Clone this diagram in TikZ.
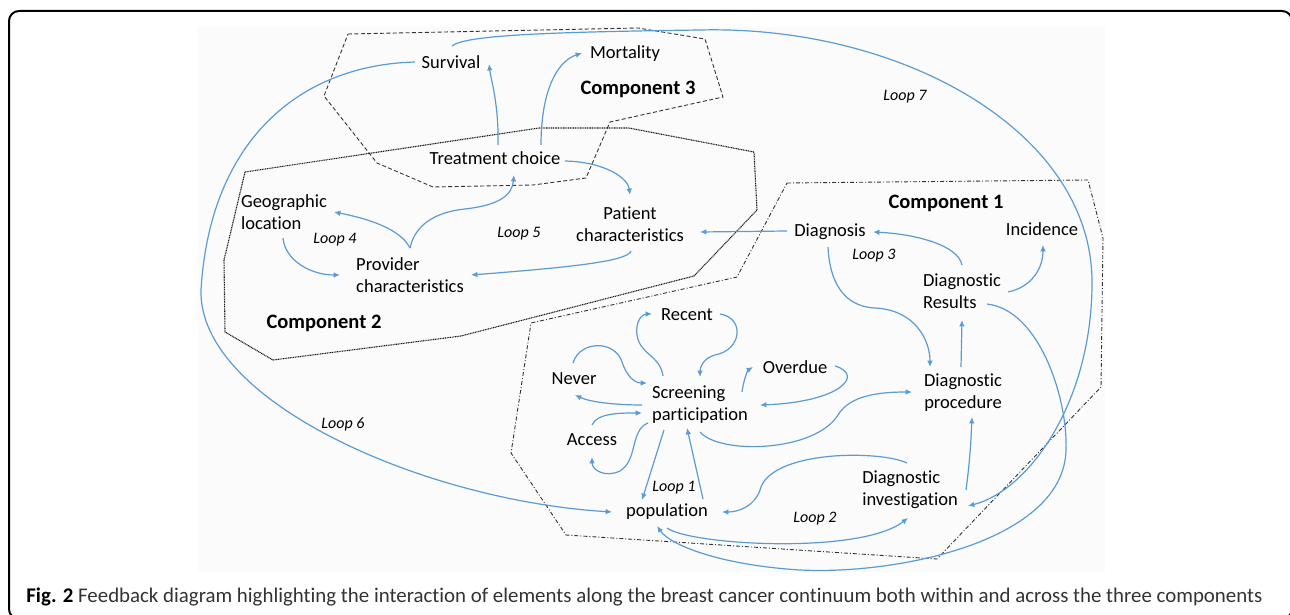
\documentclass[tikz,border=0pt]{standalone}
\usepackage{fontspec}
\usepackage{graphicx}
\setmainfont{Carlito}[Ligatures=NoCommon]
\usetikzlibrary{arrows.meta}
\definecolor{lnk}{RGB}{91,155,213}
\begin{document}
\begin{tikzpicture}[x=0.5pt,y=-0.5pt,
  lbl/.style={inner sep=0pt, font=\fontsize{9.25}{11}\selectfont},
  comp/.style={inner sep=0pt, font=\fontsize{10.25}{12}\selectfont\bfseries},
  loopl/.style={inner sep=0pt, font=\fontsize{8}{10}\selectfont\itshape},
  link/.style={draw=lnk, line width=0.6pt, -{Latex[length=3.2pt,width=2.8pt]}},
  border3/.style={draw=black!80, line width=0.45pt, dash pattern=on 2pt off 1.2pt},
  border2/.style={draw=black!90, line width=0.55pt, dash pattern=on 0.5pt off 0.35pt},
  border1/.style={draw=black!80, line width=0.45pt, dash pattern=on 2pt off 1pt on 0.5pt off 1pt}]
\useasboundingbox (0,0) rectangle (1290,615);
\fill[black!1.5] (198,27) rectangle (1105,572);
\draw[line width=1pt, rounded corners=5pt] (9,11) rectangle (1292,619);

% components
\draw[border3] (348,34) -- (638,28) -- (705,39) -- (723,97) -- (610,122) -- (586,178) -- (533,185) -- (433,187) -- (377,163) -- (324,96) -- cycle;
\draw[border2] (245,172) -- (539,128) -- (629,128) -- (754,152) -- (757,210) -- (694,276) -- (461,336) -- (273,360) -- (225,332) -- (224,260) -- cycle;
\draw[border1] (787,183) -- (1088,180) -- (1103,238) -- (1101,387) -- (937,559) -- (566,535) -- (511,453) -- (531,323) -- (737,277) -- cycle;

% nodes
\node[lbl] (surv) at (451,62) {Survival};
\node[lbl] (mort) at (625,54) {Mortality};
\node[comp] (c3) at (638,89) {Component 3};
\node[lbl] (treat) at (495,158) {Treatment choice};
\node[lbl, align=left] (geo) at (284,212) {Geographic\\location};
\node[loopl] (l4) at (335,240) {Loop 4};
\node[lbl, align=left] (prov) at (410,275) {Provider\\characteristics};
\node[loopl] (l5) at (519,234) {Loop 5};
\node[lbl, align=center] (pat) at (630,224) {Patient\\characteristics};
\node[comp] (c2) at (324,323) {Component 2};
\node[loopl] (l6) at (343,424) {Loop 6};
\node[loopl] (l7) at (905,97) {Loop 7};
\node[comp] (c1) at (946,203) {Component 1};
\node[lbl] (diag) at (830,232) {Diagnosis};
\node[lbl] (inc) at (1042,229) {Incidence};
\node[loopl] (l3) at (874,256) {Loop 3};
\node[lbl, align=left] (res) at (962,291) {Diagnostic\\Results};
\node[lbl] (rec) at (687,315) {Recent};
\node[lbl] (nev) at (574,379) {Never};
\node[lbl, align=left] (scr) at (700,405) {Screening\\participation};
\node[lbl] (ovr) at (795,367) {Overdue};
\node[lbl] (acc) at (592,440) {Access};
\node[lbl, align=center] (proc) at (963,393) {Diagnostic\\procedure};
\node[loopl] (l1) at (674,488) {Loop 1};
\node[lbl] (pop) at (667,512) {population};
\node[loopl] (l2) at (815,519) {Loop 2};
\node[lbl, align=left] (inv) at (910,490) {Diagnostic\\investigation};

\node[anchor=west, inner sep=0pt, text=black!80] (cap) at (26,597) {\resizebox{618pt}{!}{\textcolor{black}{\textbf{Fig. 2}} Feedback diagram highlighting the interaction of elements along the breast cancer continuum both within and across the three components}};

% connectors
\draw[link] ([shift={(3,-13)}]treat.center) .. controls (499,105) and (491,80) .. ([shift={(38,2)}]surv.center);
\draw[link] ([shift={(46,-13)}]treat.center) .. controls (541,95) and (555,62) .. ([shift={(-43,-1)}]mort.center);
\draw[link] ([shift={(70,3)}]treat.center) .. controls (605,162) and (628,178) .. ([shift={(0,-29)}]pat.center);
\draw[link] ([shift={(-36,0)}]surv.center) .. controls (300,65) and (210,140) .. (201,290) .. controls (198,400) and (420,500) .. ([shift={(-55,0)}]pop.center);
\draw[link] ([shift={(1,-16)}]surv.center) .. controls (465,35) and (550,32) .. (700,30) .. controls (900,25) and (1090,130) .. (1092,280) .. controls (1093,400) and (1030,490) .. ([shift={(58,16)}]inv.center);
\draw[link] ([shift={(0,-27)}]prov.center) .. controls (400,228) and (365,218) .. ([shift={(50,0)}]geo.center);
\draw[link] ([shift={(0,-27)}]prov.center) .. controls (415,225) and (435,212) .. (465,209) .. controls (500,205) and (512,195) .. ([shift={(19,17)}]treat.center);
\draw[link] ([shift={(-1,26)}]geo.center) .. controls (285,260) and (310,275) .. ([shift={(-70,0)}]prov.center);
\draw[link] ([shift={(1,27)}]pat.center) .. controls (628,262) and (560,268) .. ([shift={(61,0)}]prov.center);
\draw[link] ([shift={(-43,-1)}]diag.center) -- ([shift={(70,8)}]pat.center);
\draw[link] ([shift={(0,-26)}]res.center) .. controls (958,245) and (915,234) .. ([shift={(43,0)}]diag.center);
\draw[link] ([shift={(46,1)}]res.center) .. controls (1032,287) and (1043,268) .. ([shift={(1,16)}]inc.center);
\draw[link] ([shift={(-2,15)}]diag.center) .. controls (830,290) and (850,307) .. (875,308) .. controls (915,310) and (930,340) .. ([shift={(-33,-26)}]proc.center);
\draw[link] ([shift={(-2,-26)}]proc.center) -- ([shift={(0,29)}]res.center);
\draw[link] ([shift={(56,0)}]inv.center) .. controls (970,460) and (971,440) .. ([shift={(9,24)}]proc.center);
\draw[link] ([shift={(25,13)}]res.center) .. controls (1040,310) and (1068,400) .. (1066,450) .. controls (1064,540) and (900,575) .. (800,570) .. controls (720,565) and (670,545) .. ([shift={(-10,14)}]pop.center);
\draw[link] ([shift={(0,16)}]pop.center) .. controls (690,545) and (860,555) .. ([shift={(-2,28)}]inv.center);
\draw[link] ([shift={(-3,-27)}]inv.center) .. controls (880,450) and (770,450) .. (760,490) .. controls (755,505) and (740,512) .. ([shift={(55,0)}]pop.center);
\draw[link] ([shift={(0,27)}]scr.center) .. controls (720,455) and (815,452) .. (838,415) .. controls (850,395) and (880,392) .. ([shift={(-51,-1)}]proc.center);
\draw[link] ([shift={(40,-1)}]ovr.center) .. controls (865,375) and (840,402) .. ([shift={(60,0)}]scr.center);
\draw[link] ([shift={(42,-13)}]scr.center) .. controls (744,378) and (748,370) .. ([shift={(-42,0)}]ovr.center);
\draw[link] ([shift={(-37,-29)}]scr.center) .. controls (660,355) and (640,355) .. (637,335) .. controls (635,320) and (643,314) .. ([shift={(-35,-1)}]rec.center);
\draw[link] ([shift={(33,-1)}]rec.center) .. controls (745,318) and (742,350) .. (715,355) .. controls (703,358) and (700,368) .. ([shift={(0,-28)}]scr.center);
\draw[link] ([shift={(-1,-16)}]nev.center) .. controls (580,340) and (615,340) .. (622,362) .. controls (627,377) and (635,383) .. ([shift={(-53,-22)}]scr.center);
\draw[link] ([shift={(-58,0)}]scr.center) .. controls (615,405) and (590,402) .. ([shift={(1,16)}]nev.center);
\draw[link] ([shift={(0,-15)}]acc.center) .. controls (597,413) and (620,413) .. ([shift={(-58,8)}]scr.center);
\draw[link] ([shift={(-52,18)}]scr.center) .. controls (630,430) and (638,460) .. (620,471) .. controls (605,478) and (592,470) .. ([shift={(0,17)}]acc.center);
\draw[link] ([shift={(-36,25)}]scr.center) -- ([shift={(-25,-12)}]pop.center);
\draw[link] ([shift={(36,-13)}]pop.center) -- ([shift={(-13,23)}]scr.center);
\end{tikzpicture}
\end{document}
